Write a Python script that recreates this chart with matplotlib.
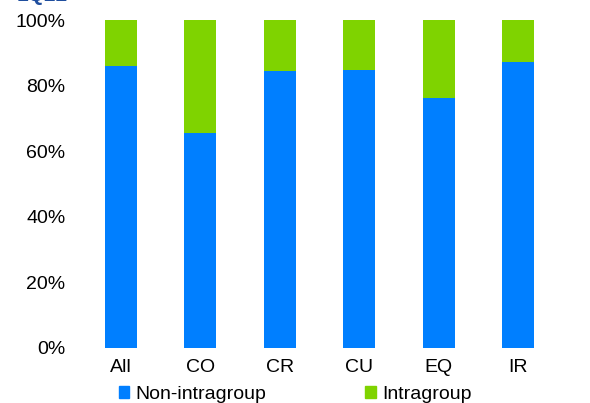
import matplotlib
matplotlib.use("Agg")
import matplotlib.pyplot as plt
import matplotlib.ticker as mticker
from matplotlib.patches import Patch

categories = ["All", "CO", "CR", "CU", "EQ", "IR"]
non_intragroup = [86.1, 65.5, 84.5, 84.9, 76.3, 87.3]
intragroup = [100 - v for v in non_intragroup]

blue = "#007FFF"
green = "#7FD300"

plt.rcParams['font.family'] = ['Liberation Sans', 'DejaVu Sans']


def main():
    fig = plt.figure(figsize=(5.9, 4.03), dpi=100)
    ax = fig.add_axes([0.137, 0.1365, 0.809, 0.8135])

    x = range(len(categories))
    ax.bar(x, non_intragroup, width=0.40, color=blue)
    ax.bar(x, intragroup, width=0.40, bottom=non_intragroup, color=green)

    ax.set_xlim(-0.5, len(categories) - 0.5)
    ax.set_ylim(0, 100)
    ax.set_xticks(list(x))
    ax.set_xticklabels(categories)
    ax.set_yticks([0, 20, 40, 60, 80, 100])
    ax.yaxis.set_major_formatter(mticker.FuncFormatter(lambda v, p: f"{v:.0f}%"))
    ax.tick_params(length=0, labelsize=14, colors="black")
    ax.tick_params(axis="x", pad=8)
    ax.tick_params(axis="y", pad=11)
    for s in ax.spines.values():
        s.set_visible(False)

    handles = [Patch(color=blue, label="Non-intragroup"),
               Patch(color=green, label="Intragroup")]
    fig.legend(handles=handles, loc="center", bbox_to_anchor=(0.50, 0.022),
               ncol=2, frameon=False, fontsize=14, handlelength=0.55,
               handleheight=0.55, handletextpad=0.3, columnspacing=5.1,
               borderaxespad=0, borderpad=0)

    # clipped title at the very top
    fig.text(0.028, 1 - 5 / 403, "1Q22", color="#1F4E9E", fontsize=15,
             fontweight="bold", va="bottom", ha="left")

    plt.savefig("out.png", dpi=100)


if __name__ == "__main__":
    main()
